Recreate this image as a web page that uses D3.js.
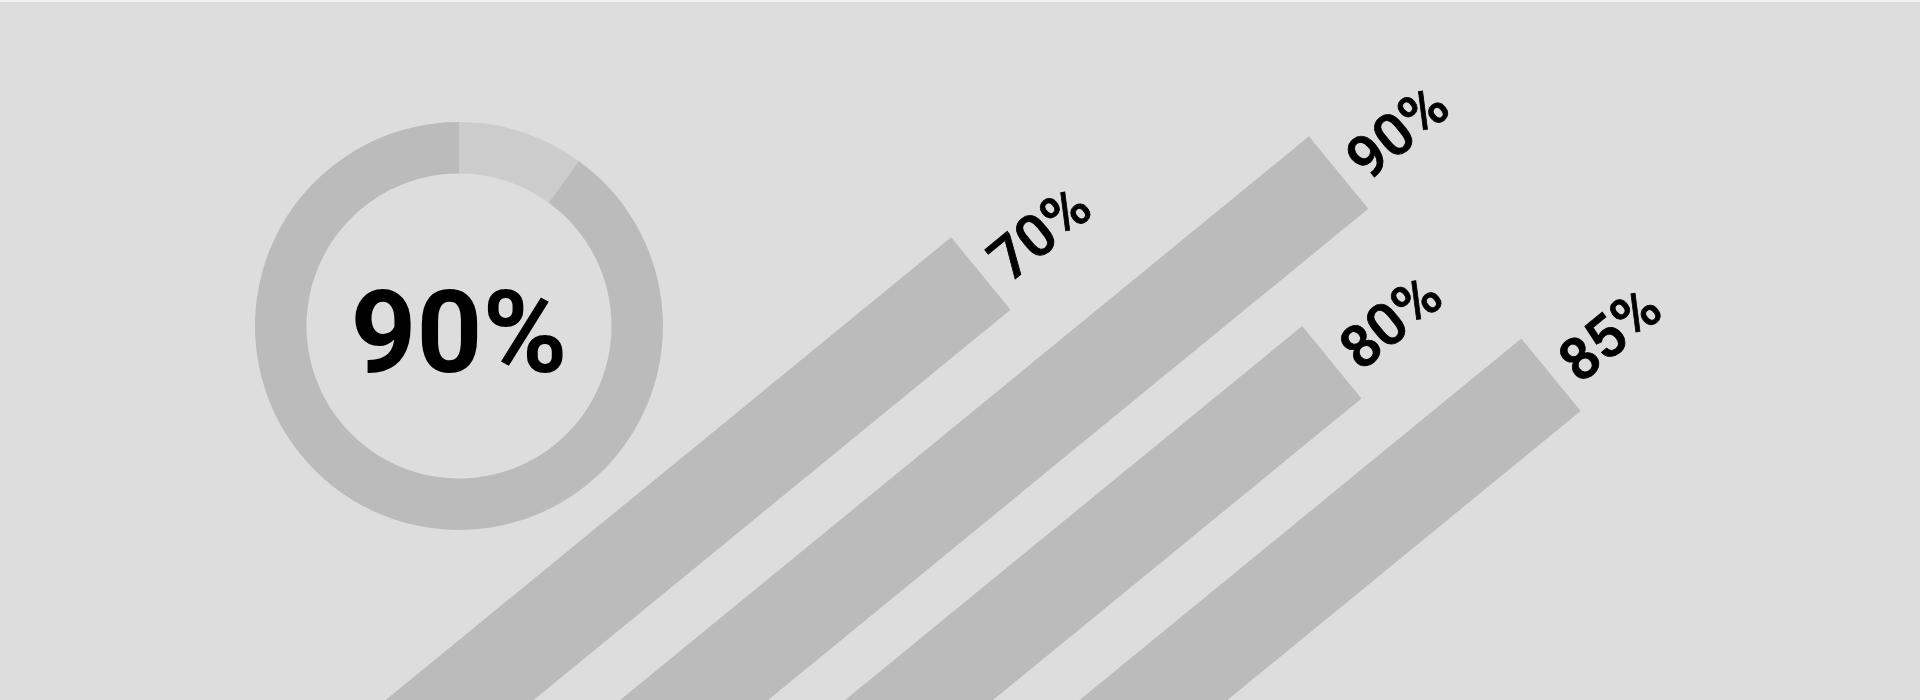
<!DOCTYPE html>
<html><head><meta charset="utf-8">
<script src="https://cdn.jsdelivr.net/npm/d3@7"></script>
<style>html,body{margin:0;padding:0;background:#f2f2f2;overflow:hidden}</style>
</head><body>
<svg id="chart" width="1920" height="700"></svg>
<script>
// ---- data ----
const donutValue = 90;
const donutLabel = "90%";
const barCategories = ["A", "B", "C", "D"];
const barValues = [70, 90, 80, 85];
const barLabels = ["70%", "90%", "80%", "85%"];

// ---- layout ----
const W = 1920, H = 700;
const svg = d3.select("#chart");
svg.append("rect").attr("x", 0).attr("y", 2).attr("width", W).attr("height", H - 2).attr("fill", "#dddddd");

// donut
const cx = 459, cy = 326, rOuter = 204, rInner = 152.5;
const pie = d3.pie().sort(null).value(d => d.v);
const donutData = [{k: "rest", v: 100 - donutValue}, {k: "value", v: donutValue}];
const arc = d3.arc().innerRadius(rInner).outerRadius(rOuter);
const gd = svg.append("g").attr("transform", `translate(${cx},${cy})`);
gd.selectAll("path").data(pie(donutData)).join("path")
  .attr("d", arc)
  .attr("fill", d => d.data.k === "rest" ? "#cccccc" : "#bbbbbb");
gd.append("text")
  .attr("text-anchor", "middle")
  .attr("y", 46)
  .attr("font-family", "Roboto, sans-serif")
  .attr("font-weight", 700)
  .attr("font-size", 115)
  .attr("fill", "#000")
  .text(donutLabel);

// rotated bars
const angle = -39.3;
const barW = 93.7;
const len = d3.scaleLinear().domain([0, 100]).range([0, 1194]);
const colStepN = 148.5, rowStepN = 291, colStepU = 102, rowStepU = 96;
const nPos = i => 786 + colStepN * (i % 2) + rowStepN * Math.floor(i / 2);
const uBase = i => -250 + colStepU * (i % 2) + rowStepU * Math.floor(i / 2);

const gb = svg.append("g").attr("transform", `rotate(${angle})`);
const bars = barCategories.map((c, i) => ({c, v: barValues[i], label: barLabels[i], i}));
gb.selectAll("rect.bar").data(bars).join("rect")
  .attr("class", "bar")
  .attr("x", d => uBase(d.i))
  .attr("y", d => nPos(d.i))
  .attr("width", d => len(d.v))
  .attr("height", barW)
  .attr("fill", "#bbbbbb");
gb.selectAll("text.lbl").data(bars).join("text")
  .attr("class", "lbl")
  .attr("x", d => uBase(d.i) + len(d.v) + 16)
  .attr("y", d => nPos(d.i) + barW / 2 + 26)
  .attr("font-family", "'Roboto Medium', Roboto, sans-serif")
  .attr("font-weight", 500)
  .attr("font-size", 59)
  .attr("fill", "#000")
  .attr("stroke", "#000")
  .attr("stroke-width", 0.8)
  .text(d => d.label);
</script>
</body></html>
